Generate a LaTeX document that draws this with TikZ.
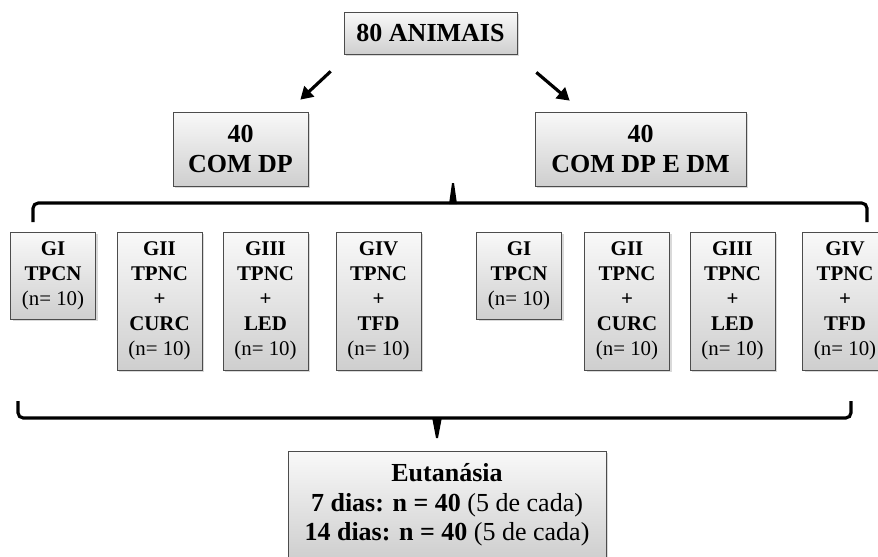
\documentclass[tikz,border=0pt]{standalone}
\usepackage{fontspec}
\setmainfont{Liberation Serif}
\usetikzlibrary{arrows.meta,calc,shadows}

\tikzset{
  box/.style={draw=gray!60!black, line width=0.4pt, top color=gray!5, bottom color=gray!38,
    drop shadow={shadow xshift=1.2pt, shadow yshift=-1.4pt, opacity=0.3},
    align=center, inner sep=0pt, font=\bfseries\fontsize{14.8}{17.6}\selectfont},
  grp/.style={box, minimum width=1.7cm, font=\bfseries\fontsize{11.9}{14.2}\selectfont},
  short/.style={grp, minimum height=1.74cm},
  tall/.style={grp, minimum height=2.76cm},
  brace/.style={line width=1.8pt, rounded corners=3pt},
  arr/.style={line width=1.8pt, -{Triangle[length=7pt,width=8pt]}},
}

\begin{document}
\begin{tikzpicture}[x=0.02cm, y=-0.02cm]
  \useasboundingbox (0,0) rectangle (878,556);

  % top level
  \node[box, minimum width=3.46cm, minimum height=0.84cm] (animais) at (430.5,33) {80 ANIMAIS};
  \node[box, minimum width=2.7cm, minimum height=1.48cm] (dp) at (240.5,149) {40\\COM DP};
  \node[box, minimum width=4.22cm, minimum height=1.48cm] (dpdm) at (640.5,149) {40\\COM DP E DM};

  \coordinate (a1s) at ($(animais.south west)+(-13,17)$);
  \coordinate (a1e) at ($(dp.north east)+(-8,-12)$);
  \coordinate (a2s) at ($(animais.south east)+(19,18)$);
  \coordinate (a2e) at ($(dpdm.north west)+(35,-11)$);
  \draw[arr] (a1s) -- (a1e);
  \draw[arr] (a2s) -- (a2e);

  % upper brace
  \draw[brace] (33,222) |- (453,203) -| (867,222);
  \fill (449,204) -- (452,183) -- (454,183) -- (457,204) -- cycle;

  % groups, DP
  \node[short] (g1a) at (53,275.5) {GI\\TPCN\\{\mdseries (n= 10)}};
  \node[tall] (g2a) at (159.5,301) {GII\\TPNC\\+\\CURC\\{\mdseries (n= 10)}};
  \node[tall] (g3a) at (265.5,301) {GIII\\TPNC\\+\\LED\\{\mdseries (n= 10)}};
  \node[tall] (g4a) at (378.5,301) {GIV\\TPNC\\+\\TFD\\{\mdseries (n= 10)}};

  % groups, DP e DM
  \node[short] (g1b) at (519,275.5) {GI\\TPCN\\{\mdseries (n= 10)}};
  \node[tall] (g2b) at (627,301) {GII\\TPNC\\+\\CURC\\{\mdseries (n= 10)}};
  \node[tall] (g3b) at (732.5,301) {GIII\\TPNC\\+\\LED\\{\mdseries (n= 10)}};
  \node[tall] (g4b) at (845,301) {GIV\\TPNC\\+\\TFD\\{\mdseries (n= 10)}};

  % lower brace
  \draw[brace] (18,401) |- (437,418) -| (851,401);
  \fill (432,417) -- (442,417) -- (438,438) -- (436,438) -- cycle;

  \node[box, minimum width=6.36cm, minimum height=2.16cm,
    font=\bfseries\fontsize{14.8}{16.8}\selectfont] (eut) at (447,505)
    {Eutanásia\\7 dias: n = 40 {\mdseries (5 de cada)}\\14 dias: n = 40 {\mdseries (5 de cada)}};
\end{tikzpicture}
\end{document}
